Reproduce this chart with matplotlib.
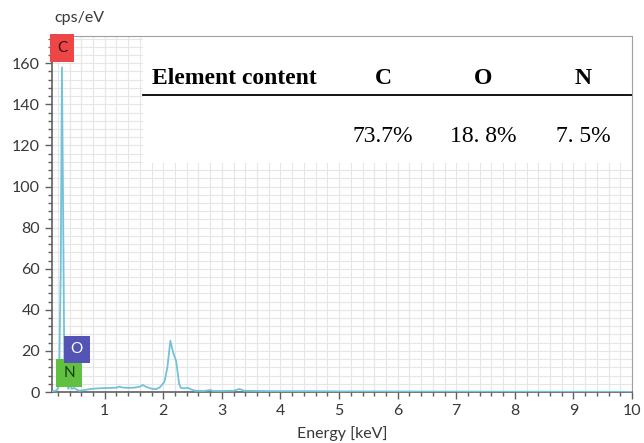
import numpy as np
import matplotlib.pyplot as plt
from matplotlib.patches import Rectangle
from matplotlib.ticker import MultipleLocator

# EDS spectrum (energy in keV, counts in cps/eV)
energy = [0.10, 0.18, 0.22, 0.25, 0.27, 0.29, 0.31, 0.34, 0.38, 0.41, 0.44, 0.48,
          0.52, 0.56, 0.62, 0.70, 0.80, 0.90, 1.00, 1.10, 1.20, 1.25, 1.30, 1.40,
          1.50, 1.60, 1.65, 1.70, 1.80, 1.88, 1.95, 2.02, 2.07, 2.12, 2.17, 2.22,
          2.27, 2.30, 2.35, 2.42, 2.48, 2.55, 2.70, 2.80, 2.85, 3.00, 3.20, 3.30,
          3.38, 3.60, 4.00, 4.50, 5.00, 6.00, 7.00, 8.00, 9.00, 10.0]
counts = [0.3, 0.8, 3.0, 60.0, 158.0, 90.0, 15.0, 5.0, 1.5, 4.0, 1.5, 2.0,
          1.2, 0.6, 0.8, 1.2, 1.6, 1.8, 1.9, 2.0, 2.1, 2.6, 2.2, 2.0,
          2.1, 2.6, 3.4, 2.6, 1.6, 1.4, 2.5, 5.0, 12.0, 25.0, 19.0, 15.0,
          4.0, 2.0, 1.8, 2.0, 1.2, 0.6, 0.5, 1.0, 0.5, 0.5, 0.6, 1.5,
          0.6, 0.5, 0.4, 0.4, 0.3, 0.25, 0.2, 0.15, 0.1, 0.05]

# element markers: symbol, line energy, box height, colours
elements = ['C', 'N', 'O']
element_energy = [0.27, 0.39, 0.52]
element_y = [167.4, 9.2, 20.7]
element_face = ['#ee4646', '#62c040', '#5454b4']
element_text = ['#3a1010', '#123a10', '#ffffff']

# composition table
table_header = ['C', 'O', 'N']
table_values = ['73.7%', '18. 8%', '7. 5%']

plt.rcParams['font.family'] = ['Lato', 'DejaVu Sans']
fig = plt.figure(figsize=(6.44, 4.43), dpi=100)
ax = fig.add_axes([0.0807, 0.1151, 0.9007, 0.8043])

ax.set_xlim(0.1, 10)
ax.set_ylim(0, 173.4)
ax.xaxis.set_major_locator(MultipleLocator(1))
ax.xaxis.set_minor_locator(MultipleLocator(0.2))
ax.yaxis.set_major_locator(MultipleLocator(20))
ax.yaxis.set_minor_locator(MultipleLocator(4))
ax.grid(which='both', color='#e6e6e6', linewidth=0.8)
ax.set_axisbelow(True)

ax.tick_params(which='major', direction='out', length=5, width=1,
               color='#606060', labelsize=11.5, labelcolor='#383838')
ax.tick_params(which='minor', direction='out', length=3, width=1, color='#606060')
for side in ['left', 'bottom']:
    ax.spines[side].set_color('#606060')
    ax.spines[side].set_linewidth(1.2)
for side in ['top', 'right']:
    ax.spines[side].set_color('#a0a0a0')
    ax.spines[side].set_linewidth(0.8)

ax.plot(energy, counts, color='#74c2da', linewidth=1.3, zorder=3)

for sym, ex, ey, fc, tc in zip(elements, element_energy, element_y, element_face, element_text):
    ax.text(ex, ey, sym, ha='center', va='center', fontsize=11, color=tc, zorder=5,
            bbox=dict(boxstyle='square,pad=0.45', facecolor=fc, edgecolor='none'))

ax.text(0.005, 1.03, 'cps/eV', transform=ax.transAxes, fontsize=11.5, color='#383838',
        ha='left', va='bottom')
ax.set_xlabel('Energy [keV]', fontsize=11.5, color='#383838', labelpad=6)

# white panel holding the composition table
ax.add_patch(Rectangle((0.157, 0.643), 0.843, 0.357, transform=ax.transAxes,
                       facecolor='white', edgecolor='none', zorder=2))
ax.plot([0.157, 1.0], [0.834, 0.834], transform=ax.transAxes, color='black',
        linewidth=1.3, zorder=4)
serif = ['Liberation Serif', 'DejaVu Serif']
ax.text(0.172, 0.881, 'Element content', transform=ax.transAxes, family=serif,
        fontsize=17, fontweight='bold', ha='left', va='center', zorder=4)
for xc, head, val in zip([0.571, 0.743, 0.916], table_header, table_values):
    ax.text(xc, 0.881, head, transform=ax.transAxes, family=serif, fontsize=17,
            fontweight='bold', ha='center', va='center', zorder=4)
    ax.text(xc, 0.716, val, transform=ax.transAxes, family=serif, fontsize=17,
            ha='center', va='center', zorder=4)

fig.savefig('out.png', dpi=100)
